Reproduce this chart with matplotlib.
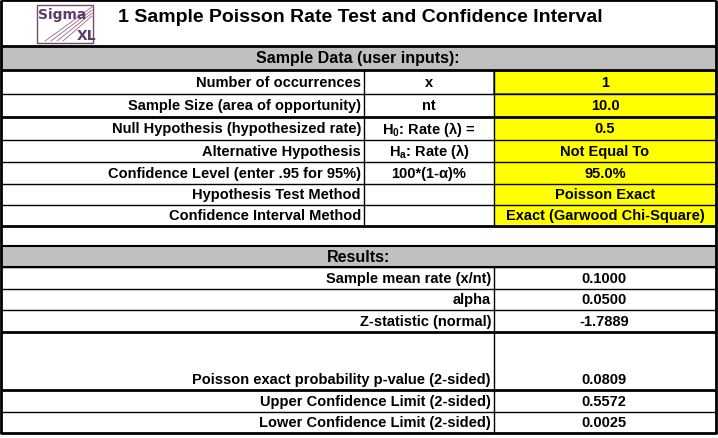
import matplotlib
matplotlib.use("Agg")
import matplotlib.pyplot as plt
from matplotlib.patches import Rectangle

title = "1 Sample Poisson Rate Test and Confidence Interval"
input_labels = ["Number of occurrences", "Sample Size (area of opportunity)",
                "Null Hypothesis (hypothesized rate)", "Alternative Hypothesis",
                "Confidence Level (enter .95 for 95%)", "Hypothesis Test Method",
                "Confidence Interval Method"]
input_symbols = ["x", "nt", r"H$_0$: Rate (λ) =", r"H$_a$: Rate (λ)", "100*(1-α)%", "", ""]
input_values = ["1", "10.0", "0.5", "Not Equal To", "95.0%", "Poisson Exact",
                "Exact (Garwood Chi-Square)"]
result_labels = ["Sample mean rate (x/nt)", "alpha", "Z-statistic (normal)",
                 "Poisson exact probability p-value (2-sided)",
                 "Upper Confidence Limit (2-sided)", "Lower Confidence Limit (2-sided)"]
result_values = ["0.1000", "0.0500", "-1.7889", "0.0809", "0.5572", "0.0025"]

plt.rcParams["font.family"] = "Liberation Sans"
plt.rcParams["mathtext.fontset"] = "custom"
plt.rcParams["mathtext.rm"] = "Liberation Sans:bold"
plt.rcParams["mathtext.it"] = "Liberation Sans:bold"
W, H = 718, 439
fig = plt.figure(figsize=(W/100, H/100), dpi=100)
ax = fig.add_axes([0, 0, 1, 1])
ax.set_xlim(0, W); ax.set_ylim(H, 0); ax.axis("off")

def hl(y, x0=1, x1=716, lw=1.0):
    ax.plot([x0, x1], [y, y], color="black", lw=lw, solid_capstyle="butt")
def vl(x, y0, y1, lw=1.0):
    ax.plot([x, x], [y0, y1], color="black", lw=lw, solid_capstyle="butt")

fs = 10.5
L, R = 1, 716
# title
ax.text(118, 18, title, fontsize=14, fontweight="bold", va="center", ha="left")
# logo
ax.add_patch(Rectangle((37, 6), 56, 38, fill=False, ec="#7a4a6a", lw=1))
ax.text(38, 15, "Sigma", fontsize=10, fontweight="bold", color="#5a3a70", va="center",
        fontfamily="DejaVu Sans Condensed")
ax.text(77, 36, "XL", fontsize=10, fontweight="bold", color="#5a3a70", va="center",
        fontfamily="DejaVu Sans Condensed")
for i in range(4):
    ax.plot([45 + i*6, 92], [42, 8 + i*3], color="#a06080", lw=0.6)
# sample header
ax.add_patch(Rectangle((L, 47), R-L, 24, color="#c0c0c0"))
ax.text(358, 59, "Sample Data (user inputs):", fontsize=11.5, fontweight="bold", ha="center", va="center")
rows = [71, 95, 118, 141, 163, 185, 206, 227]
for i in range(7):
    y0, y1 = rows[i], rows[i+1]
    ax.add_patch(Rectangle((494, y0), R-494, y1-y0, color="#ffff00"))
    yc = (y0+y1)/2
    ax.text(361, yc, input_labels[i], fontsize=fs, fontweight="bold", ha="right", va="center")
    ax.text(429, yc, input_symbols[i], fontsize=fs, fontweight="bold", ha="center", va="center")
    ax.text(605, yc, input_values[i], fontsize=fs, fontweight="bold", ha="center", va="center")
    vl(364, y0, y1); vl(494, y0, y1)
for y in rows:
    hl(y, lw=2.0 if y in (71, 118, 227) else 1.0)
hl(47, lw=2); hl(1, lw=2)
ax.add_patch(Rectangle((494, 72), 222, 23, fill=False, ec="#3050c0", lw=1.2))
# blank + results header
ax.add_patch(Rectangle((L, 247), R-L, 21, color="#c0c0c0"))
hl(247, lw=1.5); hl(268, lw=1.5)
ax.text(327, 258, "Results:", fontsize=11.5, fontweight="bold", ha="left", va="center")
rrows = [268, 290, 311, 333, 391, 413, 434]
for i in range(6):
    y0, y1 = rrows[i], rrows[i+1]
    yt = (y0+y1)/2 if i != 3 else 380
    ax.text(491, yt, result_labels[i], fontsize=fs, fontweight="bold", ha="right", va="center")
    ax.text(604, yt, result_values[i], fontsize=fs, fontweight="bold", ha="center", va="center")
    vl(494, y0, y1)
for y in rrows:
    hl(y, lw=2.0 if y in (333, 391, 434) else 1.0)
vl(L, 1, 435, lw=2); vl(R, 1, 435, lw=2)
fig.savefig("out.png", dpi=100)
